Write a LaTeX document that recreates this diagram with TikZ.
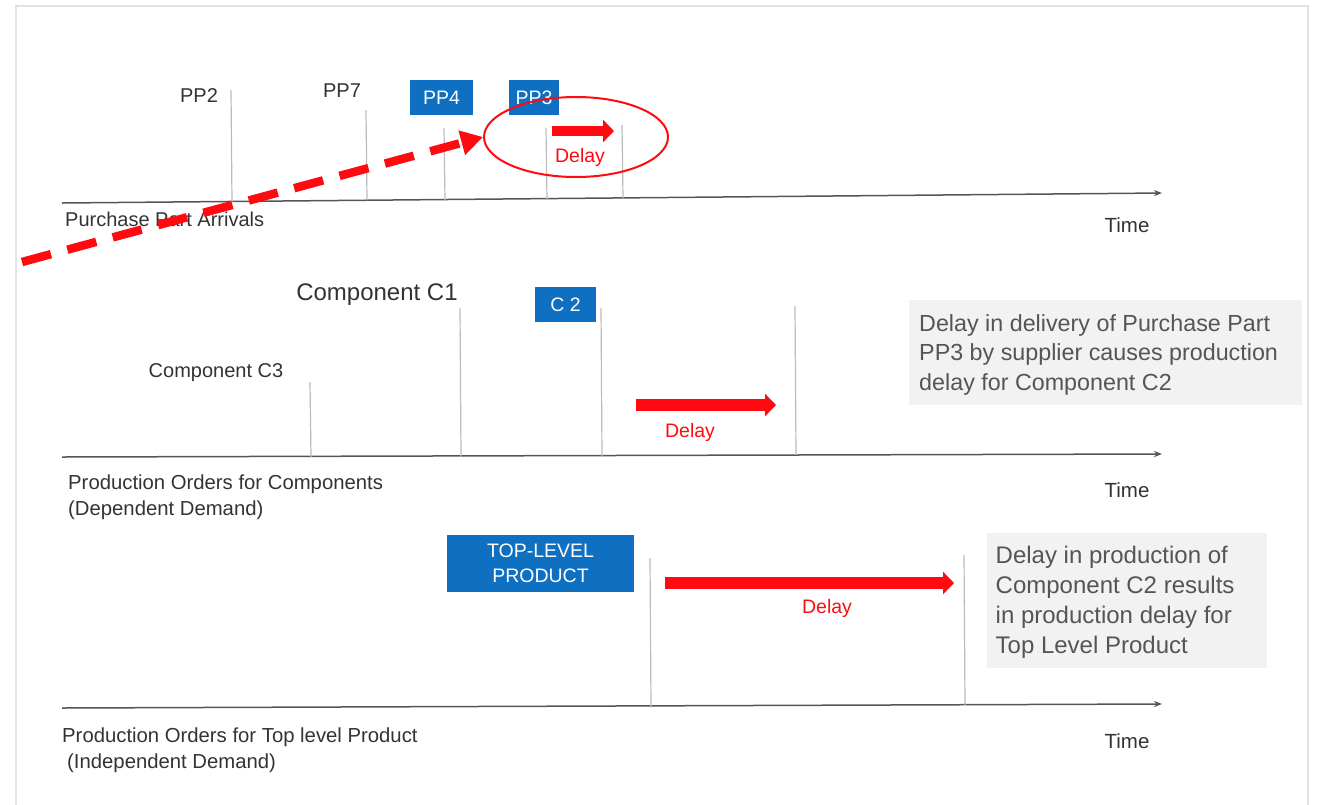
\documentclass[tikz,border=0pt]{standalone}
\usepackage{fontspec}
\setmainfont{Liberation Sans}
\usetikzlibrary{arrows.meta,shapes.geometric}
\definecolor{bluebox}{HTML}{0F6FC0}
\definecolor{redc}{HTML}{FE0A10}
\definecolor{txt}{HTML}{333333}
\definecolor{notetxt}{HTML}{555555}
\definecolor{notebg}{HTML}{F2F2F2}
\definecolor{tickc}{HTML}{BBBBBB}
\definecolor{axisc}{HTML}{555555}
\definecolor{framec}{HTML}{E2E2E2}
\tikzset{
  lbl/.style={text=txt, font=\fontsize{20}{24}\selectfont, inner sep=0pt},
  bigl/.style={text=txt, font=\fontsize{24}{28}\selectfont, inner sep=0pt},
  bbox/.style={fill=bluebox, text=white, font=\fontsize{19.5}{24}\selectfont, inner sep=0pt, align=center},
  note/.style={fill=notebg, text=notetxt, inner sep=0pt, align=left, anchor=north west},
  tickl/.style={draw=tickc, line width=1.2pt},
  axisl/.style={draw=axisc, line width=1.5pt, -{Stealth[length=8pt,width=6pt]}},
  delayar/.style={draw=redc, line width=#1, -{Triangle[length=11pt,width=22pt]}},
  delayt/.style={text=redc, font=\fontsize{19.5}{22}\selectfont, inner sep=0pt},
  timel/.style={text=txt, font=\fontsize{20.5}{24}\selectfont, inner sep=0pt},
}
\begin{document}
\begin{tikzpicture}[x=1pt,y=-1pt]
\useasboundingbox (0,0) rectangle (1319,804);
\draw[framec, line width=1.5pt] (16,810) -- (16,6) -- (1308,6) -- (1308,810);

% ---------- Row 1 ----------
\coordinate (a1s) at (62,203);
\coordinate (a1e) at (1162,193);
\draw[axisl] (a1s) -- (a1e);
\coordinate (t1a) at (231,90);  \coordinate (t1ab) at (232,202);
\coordinate (t1b) at (366,110); \coordinate (t1bb) at (367,200);
\coordinate (t1c) at (444,128); \coordinate (t1cb) at (445,200);
\coordinate (t1d) at (546,128); \coordinate (t1db) at (547,200);
\coordinate (t1e) at (622,125); \coordinate (t1eb) at (623,198);
\foreach \p in {a,b,c,d,e} \draw[tickl] (t1\p) -- (t1\p b);
\node[lbl] (pp2) at (199,96) {PP2};
\node[lbl] (pp7) at (342,91) {PP7};
\node[bbox, minimum width=63pt, minimum height=35pt] (pp4) at (441.5,97.5) {PP4};
\node[bbox, minimum width=50pt, minimum height=35pt] (pp3) at (534,97.5) {PP3};
\coordinate (d1s) at (552,131);
\coordinate (d1e) at (614,131);
\draw[delayar=10pt] (d1s) -- (d1e);
\node[delayt] (delay1) at (580,157) {Delay};
\node[draw=redc, line width=2pt, ellipse, minimum width=184pt, minimum height=80pt, inner sep=0pt] (ell) at (576,137) {};
\node[lbl, anchor=west] (pparr) at (65,219) {Purchase Part Arrivals};
\node[timel] (time1) at (1127,225) {Time};
\coordinate (dashs) at (22,262);
\draw[redc, line width=8.5pt, dash pattern=on 30pt off 17pt, -{Triangle[length=22pt,width=24pt]}] (dashs) -- (ell.west);

% ---------- Row 2 ----------
\coordinate (a2s) at (62,457);
\coordinate (a2e) at (1162,454);
\draw[axisl] (a2s) -- (a2e);
\coordinate (t2a) at (310,382); \coordinate (t2ab) at (311,457);
\coordinate (t2b) at (460,308); \coordinate (t2bb) at (461,457);
\coordinate (t2c) at (601,308); \coordinate (t2cb) at (602,456);
\coordinate (t2d) at (795,306); \coordinate (t2db) at (796,455);
\foreach \p in {a,b,c,d} \draw[tickl] (t2\p) -- (t2\p b);
\node[bigl] (c1) at (377,295) {Component C1};
\node[lbl] (c3) at (216,373) {Component C3};
\node[bbox, minimum width=61pt, minimum height=35pt] (c2) at (565.5,304.5) {C 2};
\coordinate (d2s) at (636,405);
\coordinate (d2e) at (776,405);
\draw[delayar=12pt] (d2s) -- (d2e);
\node[delayt] (delay2) at (690,432) {Delay};
\node[note, minimum width=393pt, minimum height=105pt, font=\fontsize{23.3}{29.5}\selectfont] (note1) at (909,300) {\hspace*{7pt}\parbox[t]{380pt}{\vspace*{4pt}Delay in delivery of Purchase Part\\PP3 by supplier causes production\\delay for Component C2}};
\node[lbl, anchor=north west, align=left, font=\fontsize{20.3}{26}\selectfont] (prodc) at (68,475) {Production Orders for Components\\(Dependent Demand)};
\node[timel] (time2) at (1127,490) {Time};

% ---------- Row 3 ----------
\coordinate (a3s) at (62,708);
\coordinate (a3e) at (1162,704);
\draw[axisl] (a3s) -- (a3e);
\coordinate (t3a) at (650,558); \coordinate (t3ab) at (651,707);
\coordinate (t3b) at (964,555); \coordinate (t3bb) at (965,705);
\foreach \p in {a,b} \draw[tickl] (t3\p) -- (t3\p b);
\node[bbox, minimum width=187pt, minimum height=57pt, font=\fontsize{19.5}{25}\selectfont] (top) at (540.5,563.5) {TOP-LEVEL\\PRODUCT};
\coordinate (d3s) at (665,583);
\coordinate (d3e) at (954,583);
\draw[delayar=12pt] (d3s) -- (d3e);
\node[delayt] (delay3) at (827,608) {Delay};
\node[note, minimum width=280pt, minimum height=135pt, font=\fontsize{24}{30}\selectfont] (note2) at (987,533) {\hspace*{7pt}\parbox[t]{270pt}{\vspace*{4pt}Delay in production of\\Component C2 results\\in production delay for\\Top Level Product}};
\node[lbl, anchor=north west, align=left, font=\fontsize{20.3}{26}\selectfont] (prodt) at (62,728) {Production Orders for Top level Product\\\hspace*{5pt}(Independent Demand)};
\node[timel] (time3) at (1127,741) {Time};
\end{tikzpicture}
\end{document}
